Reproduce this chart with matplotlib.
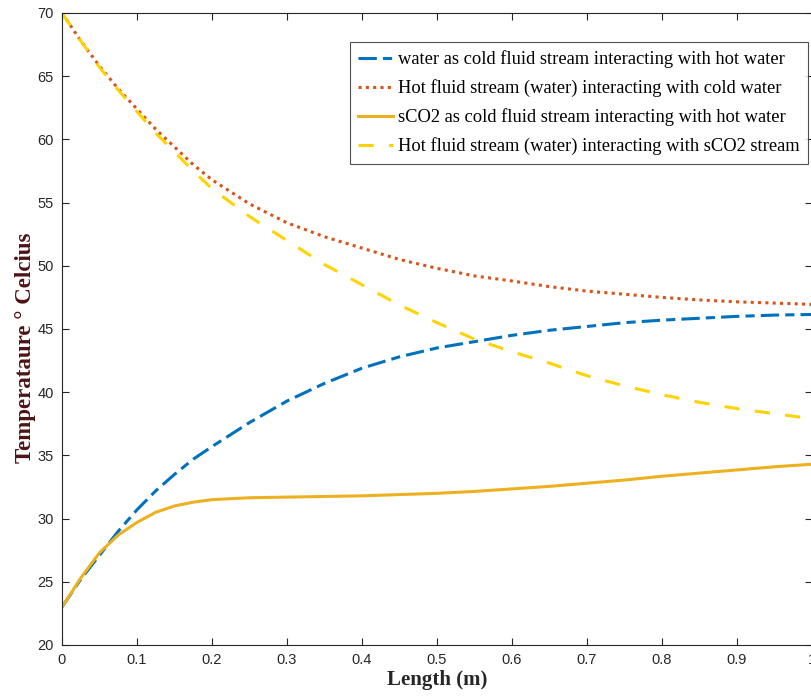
import numpy as np
import matplotlib.pyplot as plt

# length along exchanger (m)
length = [0, 0.025, 0.05, 0.075, 0.1, 0.125, 0.15, 0.175, 0.2, 0.25, 0.3, 0.35,
          0.4, 0.45, 0.5, 0.55, 0.6, 0.65, 0.7, 0.75, 0.8, 0.85, 0.9, 0.95, 1.0]

water_cold = [23.0, 25.2, 27.1, 29.0, 30.7, 32.2, 33.5, 34.7, 35.7, 37.6, 39.3, 40.7,
              41.9, 42.8, 43.5, 44.0, 44.5, 44.9, 45.2, 45.5, 45.7, 45.85, 46.0, 46.1, 46.15]
hot_vs_water = [70.0, 67.8, 65.8, 64.0, 62.4, 60.8, 59.4, 58.0, 56.8, 54.9, 53.4, 52.3,
                51.4, 50.5, 49.8, 49.2, 48.8, 48.35, 48.0, 47.75, 47.5, 47.3, 47.15, 47.05, 46.95]
sco2_cold = [23.0, 25.3, 27.3, 28.7, 29.7, 30.5, 31.0, 31.3, 31.5, 31.65, 31.7, 31.75,
             31.8, 31.9, 32.0, 32.15, 32.35, 32.55, 32.8, 33.05, 33.35, 33.6, 33.85, 34.1, 34.3]
hot_vs_sco2 = [70.0, 67.8, 65.7, 63.9, 62.2, 60.5, 59.0, 57.5, 56.1, 53.9, 52.0, 50.1,
               48.5, 46.9, 45.5, 44.2, 43.2, 42.3, 41.3, 40.5, 39.8, 39.2, 38.7, 38.3, 37.9]

labels = ['water as cold fluid stream interacting with hot water',
          'Hot fluid stream (water) interacting with cold water',
          'sCO2 as cold fluid stream interacting with hot water',
          'Hot fluid stream (water) interacting with sCO2 stream']

axis_col = '#262626'

fig = plt.figure(figsize=(8.11, 6.98), dpi=100)
ax = fig.add_axes([62 / 811, 1 - 645 / 698, 750 / 811, 632 / 698])

ax.plot(length, water_cold, color='#0072BD', lw=2.2, ls=(0, (6, 2, 3, 2)), label=labels[0])
ax.plot(length, hot_vs_water, color='#D95319', lw=2.2, ls=(0, (1, 1.4)), label=labels[1])
ax.plot(length, sco2_cold, color='#EDB120', lw=2.2, ls='-', label=labels[2])
ax.plot(length, hot_vs_sco2, color='#FFD300', lw=2.2, ls=(0, (5, 5)), label=labels[3])

ax.set_xlim(0, 1)
ax.set_ylim(20, 70)
ax.set_xticks(np.arange(0, 1.01, 0.1))
ax.set_xticklabels(['0', '0.1', '0.2', '0.3', '0.4', '0.5', '0.6', '0.7', '0.8', '0.9', '1'])
ax.set_yticks(np.arange(20, 71, 5))

for s in ax.spines.values():
    s.set_color(axis_col)
    s.set_linewidth(0.8)
ax.tick_params(direction='in', length=5, width=0.8, color=axis_col, labelcolor=axis_col,
               top=True, right=True, labelsize=10.5, pad=6)
for t in ax.get_xticklabels() + ax.get_yticklabels():
    t.set_family('Liberation Sans')

ax.set_xlabel('Length (m)', family='Liberation Serif', fontweight='bold', fontsize=15,
              color=axis_col, labelpad=2)
ax.set_ylabel('Temperataure \u00b0 Celcius', family='Liberation Serif', fontweight='bold',
              fontsize=16.5, color='#4d1414')
ax.yaxis.set_label_coords(-0.034, 0.47)

leg = ax.legend(loc='upper right', bbox_to_anchor=(746 / 750, 1 - 29 / 632),
                prop={'family': 'Liberation Serif', 'size': 13.3}, frameon=True, fancybox=False,
                edgecolor=axis_col, handlelength=1.9, handletextpad=0.25, labelspacing=0.6,
                borderpad=0.45, borderaxespad=0)
leg.get_frame().set_linewidth(0.8)

fig.savefig('out.png', dpi=100)
